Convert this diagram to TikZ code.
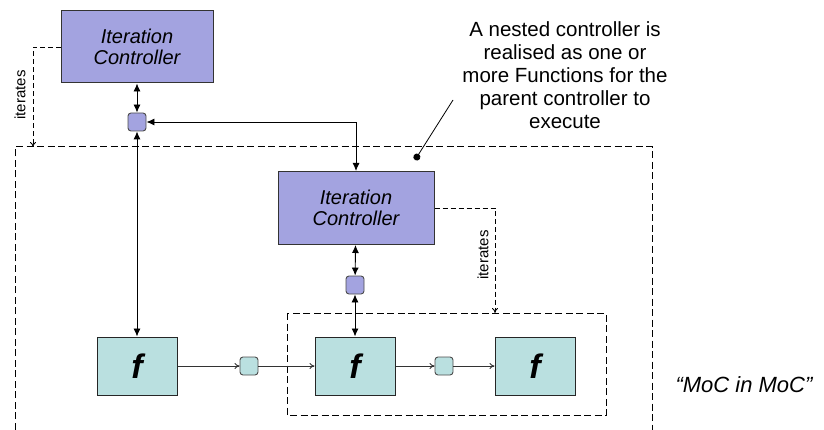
\documentclass[tikz,border=0pt]{standalone}
\usepackage{fontspec}
\setmainfont{Liberation Sans}
\usetikzlibrary{arrows.meta}

\definecolor{ctrlfill}{RGB}{163,163,224}
\definecolor{funcfill}{RGB}{186,224,224}

\begin{document}
\begin{tikzpicture}[x=1pt,y=-1pt,
	ctrlbox/.style={draw=black!80,line width=1pt,fill=ctrlfill,minimum width=152pt,minimum height=72pt,align=center,font=\fontsize{20}{20.5}\selectfont\itshape},
	funcbox/.style={draw=black!85,line width=1pt,fill=funcfill,minimum width=80pt,minimum height=58pt,font=\fontsize{34}{34}\selectfont\bfseries\itshape},
	ctrlport/.style={draw=black!70,line width=0.9pt,fill=ctrlfill,rounded corners=3pt,minimum size=18pt,inner sep=0pt},
	funcport/.style={draw=black!70,line width=0.9pt,fill=funcfill,rounded corners=3pt,minimum size=18pt,inner sep=0pt},
	ctl/.style={line width=0.9pt,{Latex[length=8pt,width=7pt]}-{Latex[length=8pt,width=7pt]}},
	flow/.style={line width=0.9pt,black!80,-{To[length=5pt,width=6pt]}},
	dashbox/.style={line width=1pt,dash pattern=on 7pt off 3.5pt},
	iter/.style={line width=0.9pt,dash pattern=on 5pt off 3pt,-{To[length=5pt,width=6pt]}},
	iterlabel/.style={rotate=90,font=\fontsize{15}{15}\selectfont}]
	\useasboundingbox (0,0) rectangle (824,430);

	% outer controller
	\node[ctrlbox] (ictop) at (137,47) {Iteration\\Controller};
	\node[ctrlport] (ptop) at (137,122) {};

	% nested controller
	\node[ctrlbox,minimum width=156pt,minimum height=73pt] (icnest) at (356,208) {Iteration\\Controller};
	\node[ctrlport] (pnest) at (355,285) {};

	% functions
	\node[funcbox] (f1) at (137,366) {f};
	\node[funcbox] (f2) at (355,366) {f};
	\node[funcbox] (f3) at (535,366) {f};
	\node[funcport] (d1) at (249,366) {};
	\node[funcport] (d2) at (444,366) {};

	% dashed boxes
	\coordinate (outbl) at (15,440);
	\coordinate (outbr) at (652,440);
	\draw[dashbox] (outbl) |- (outbr |- 0,147) -- (outbr);
	\draw[dashbox] (287,313) rectangle (606,415);

	% iterates
	\coordinate (outtop) at (33,147);
	\coordinate (innertop) at (495,313);
	\draw[iter] (ictop.west) -| (outtop);
	\draw[iter] (icnest.east) -| (innertop);
	\node[iterlabel] at (20,95) {iterates};
	\node[iterlabel] at (483,255) {iterates};

	% control links
	\draw[ctl] (ictop) -- (ptop);
	\draw[ctl] (ptop) -- (f1);
	\draw[ctl] (ptop) -| (icnest);
	\draw[ctl] (icnest) -- (pnest);
	\draw[ctl] (pnest) -- (f2);

	% data flow
	\draw[flow] (f1) -- (d1);
	\draw[flow] (d1) -- (f2);
	\draw[flow] (f2) -- (d2);
	\draw[flow] (d2) -- (f3);

	% note
	\node[align=center,font=\fontsize{20.5}{23}\selectfont] (note) at (565,75) {A nested controller is\\realised as one or\\more Functions for the\\parent controller to\\execute};
	\coordinate (notetail) at (453,100);
	\coordinate (notedot) at (415,160);
	\draw[line width=0.8pt,-{Circle[length=7pt]}] (notetail) -- (notedot);

	\node[font=\fontsize{22}{22}\selectfont\itshape] (moc) at (744,385) {``MoC in MoC''};
\end{tikzpicture}
\end{document}
